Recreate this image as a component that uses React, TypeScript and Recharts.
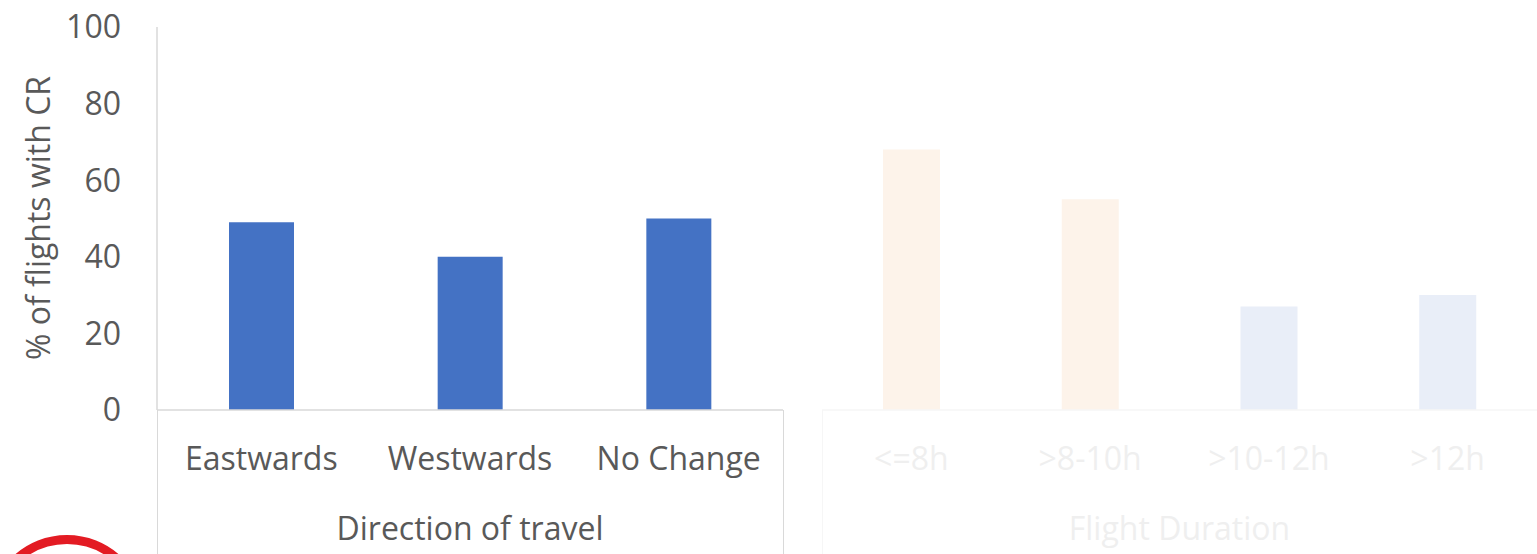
import { BarChart, Bar, XAxis, YAxis, Cell } from 'recharts';

/* ── Data ── */
const directionCats = ['Eastwards', 'Westwards', 'No Change'];
const directionValues = [49, 40, 50];
const durationCats = ['<=8h', '>8-10h', '>10-12h', '>12h'];
const durationValues = [68, 55, 27, 30];
const durationColors = ['#FDF3EA', '#FDF3EA', '#E9EEF8', '#E9EEF8'];
const yTicks = [0, 20, 40, 60, 80, 100];

const directionData = directionCats.map((name, i) => ({ name, value: directionValues[i] }));
const durationData = durationCats.map((name, i) => ({ name, value: durationValues[i] }));

const FONT = '"Open Sans", "Noto Sans", sans-serif';
const TEXT = '#595959';
const FAINT_TEXT = '#EFEFEF';
const AXIS = '#D9D9D9';

const makeTick = (color: string) => (props: any) => {
  const { x, y, payload } = props;
  return (
    <text x={x} y={y} dy={52} textAnchor="middle" fill={color} fontSize={32} fontFamily={FONT}>
      {payload.value}
    </text>
  );
};

const groupLabel = (text: string, color: string) => (props: any) => {
  const vb = props.viewBox || {};
  return (
    <text x={vb.x + vb.width / 2} y={540} textAnchor="middle" fill={color} fontSize={32} fontFamily={FONT}>
      {text}
    </text>
  );
};

const line = (left: number, top: number, height: number, color: string) => (
  <div style={{ position: 'absolute', left, top, width: 1.5, height, background: color }} />
);

export default function App() {
  return (
    <div style={{ position: 'absolute', left: 0, top: 0, width: 1537, height: 554, background: '#fff', overflow: 'hidden' }}>
      {/* ── Direction of travel ── */}
      <div style={{ position: 'absolute', left: 0, top: 0 }}>
        <BarChart width={790} height={554} data={directionData}
          margin={{ top: 27, right: 7, left: 0, bottom: 0 }}>
          <YAxis domain={[0, 100]} ticks={yTicks} width={157} interval={0}
            axisLine={{ stroke: AXIS, strokeWidth: 1.5 }} tickLine={false} tickMargin={30}
            tick={{ fill: TEXT, fontSize: 32, fontFamily: FONT }}
            label={(p: any) => (
              <text x={37} y={218} transform="rotate(-90 37 218)" textAnchor="middle"
                dominantBaseline="central" fill={TEXT} fontSize={32} fontFamily={FONT}>
                % of flights with CR
              </text>
            )} />
          <XAxis dataKey="name" height={144} axisLine={{ stroke: AXIS, strokeWidth: 1.5 }}
            tickLine={false} interval={0} tick={makeTick(TEXT)}
            label={groupLabel('Direction of travel', TEXT)} />
          <Bar dataKey="value" fill="#4472C4" barSize={65} isAnimationActive={false} />
        </BarChart>
      </div>

      {/* ── Flight Duration (faded) ── */}
      <div style={{ position: 'absolute', left: 822, top: 0 }}>
        <BarChart width={715} height={554} data={durationData}
          margin={{ top: 27, right: 0, left: 0, bottom: 0 }}>
          <YAxis hide domain={[0, 100]} ticks={yTicks} />
          <XAxis dataKey="name" height={144} axisLine={{ stroke: '#F6F6F6', strokeWidth: 1.5 }}
            tickLine={false} interval={0} tick={makeTick(FAINT_TEXT)}
            label={groupLabel('Flight Duration', FAINT_TEXT)} />
          <Bar dataKey="value" barSize={57} isAnimationActive={false}>
            {durationData.map((_, i) => (
              <Cell key={`dur-${i}`} fill={durationColors[i]} />
            ))}
          </Bar>
        </BarChart>
      </div>

      {/* ── Category box lines ── */}
      {line(156.5, 410, 144, AXIS)}
      {line(782.5, 410, 144, AXIS)}
      {line(821.5, 410, 144, '#F6F6F6')}

      {/* ── Logo ring (cropped) ── */}
      <svg width={160} height={554} style={{ position: 'absolute', left: 0, top: 0 }}>
        <circle cx={67} cy={614} r={74.5} fill="none" stroke="#E31B23" strokeWidth={9} />
      </svg>
    </div>
  );
}
